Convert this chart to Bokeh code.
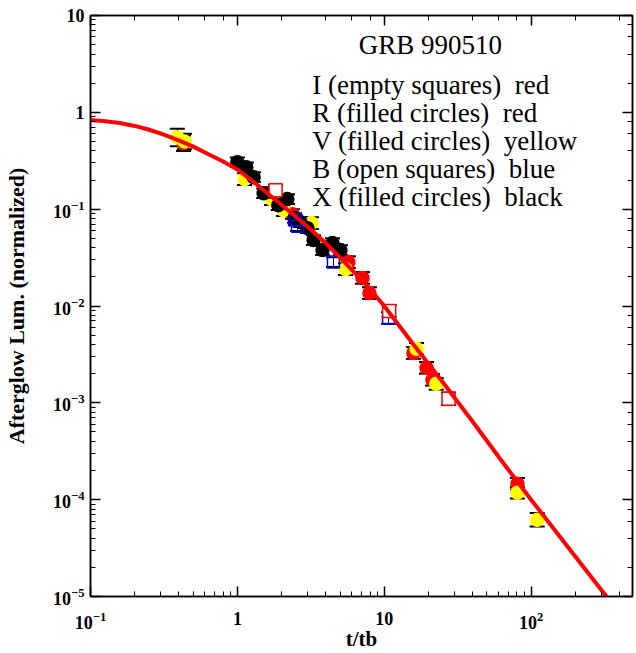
from bokeh.plotting import figure
from bokeh.models import LogAxis, Whisker, ColumnDataSource, Label, TeeHead
from bokeh.embed import file_html
from bokeh.resources import INLINE

# ---- data ----
R_t = [0.43, 1.79, 2.37, 5.70, 7.11, 7.93, 15.8, 19.4, 21.3, 80.7]
R_L = [0.48, 0.136, 0.0887, 0.0284, 0.0195, 0.0136, 0.00327, 0.00230, 0.00173, 1.46e-4]
R_err = [0.08, 0.05, 0.05, 0.06, 0.06, 0.06, 0.06, 0.06, 0.06, 0.06]

V_t = [0.39, 0.436, 1.12, 1.71, 2.06, 3.19, 5.45, 16.6, 22.6, 80.7, 110]
V_L = [0.55, 0.50, 0.204, 0.127, 0.0977, 0.0718, 0.0240, 0.00361, 0.00157, 1.18e-4, 6.2e-5]
V_err = [0.09, 0.08, 0.06, 0.06, 0.06, 0.06, 0.06, 0.06, 0.06, 0.06, 0.07]

X_t = [1.00, 1.15, 1.29, 1.51, 1.73, 1.90, 2.19, 2.45, 2.69, 3.00, 3.30, 3.80, 4.44, 5.03]
X_L = [0.305, 0.271, 0.214, 0.146, 0.150, 0.110, 0.127, 0.081, 0.0734, 0.0637, 0.0479, 0.0378, 0.0446, 0.0378]
X_err = [0.05] * 14

B_t = [2.48, 2.57, 4.51, 10.7]
B_L = [0.0771, 0.0668, 0.0284, 0.00752]
B_err = [0.05, 0.05, 0.05, 0.06]

I_t = [1.82, 10.8, 27.4]
I_L = [0.157, 0.00887, 0.00110]
I_err = [0.05, 0.06, 0.065]

curve_t = [0.1, 0.126, 0.158, 0.2, 0.251, 0.316, 0.398, 0.501, 0.631, 0.794, 1.0, 1.259,
           1.585, 1.995, 2.512, 3.162, 3.981, 5.012, 6.31, 7.943, 10.0,
           15.85, 25.12, 39.81, 63.1, 100, 158.5, 251.2, 398.1]
curve_L = [0.832, 0.807, 0.776, 0.724, 0.661, 0.589, 0.513, 0.442, 0.372, 0.313, 0.257, 0.197,
           0.148, 0.111, 0.0832, 0.0617, 0.0447, 0.0316, 0.0219, 0.0151, 0.0100,
           0.00398, 0.00162, 6.46e-4, 2.51e-4, 1.0e-4, 4.07e-5, 1.66e-5, 6.76e-6]

title_text = "GRB 990510"
legend_lines = ["I (empty squares) \u00a0red", "R (filled circles) \u00a0red",
                "V (filled circles) \u00a0yellow", "B (open squares) \u00a0blue",
                "X (filled circles) \u00a0black"]

FONT = "Liberation Serif"

p = figure(width=634, height=653, x_axis_type="log", y_axis_type="log",
           x_range=(0.1, 490), y_range=(1e-5, 10),
           output_backend="svg", toolbar_location=None,
           min_border_left=90, min_border_right=2, min_border_top=15, min_border_bottom=56)
p.grid.visible = False
p.outline_line_color = "black"
p.outline_line_width = 1.5
p.background_fill_color = "white"


def style_axis(ax, labels=True):
    ax.axis_line_width = 1.5
    ax.major_tick_in = 10
    ax.major_tick_out = 0
    ax.minor_tick_in = 5
    ax.minor_tick_out = 0
    ax.major_tick_line_width = 1.5
    ax.minor_tick_line_width = 1
    if labels:
        ax.major_label_text_font = FONT
        ax.major_label_text_font_style = "bold"
        ax.major_label_text_font_size = "18px"
        ax.major_label_text_color = "black"
        ax.axis_label_text_font = FONT
        ax.axis_label_text_font_style = "bold"
        ax.axis_label_text_color = "black"
    else:
        ax.major_label_text_font_size = "1px"
        ax.major_label_text_color = None
        ax.major_label_standoff = 0


xa = p.xaxis[0]
ya = p.yaxis[0]
style_axis(xa)
style_axis(ya)
xa.axis_label = "t/tb"
xa.axis_label_text_font_size = "21px"
xa.major_label_standoff = 15
xa.axis_label_standoff = -5
xa.major_label_overrides = {1: "1", 10: "10"}
ya.axis_label = "Afterglow Lum. (normalized)"
ya.axis_label_text_font_size = "22px"
ya.major_label_standoff = 6
ya.axis_label_standoff = 21
ya.major_label_overrides = {1: "1", 10: "10"}

top = LogAxis()
style_axis(top, labels=False)
p.add_layout(top, "above")
right = LogAxis()
style_axis(right, labels=False)
p.add_layout(right, "right")


def add_series(t, L, err, marker, fill, line, size=13):
    lo = [v / 10 ** e for v, e in zip(L, err)]
    up = [v * 10 ** e for v, e in zip(L, err)]
    src = ColumnDataSource(dict(t=t, L=L, lo=lo, up=up))
    w = Whisker(source=src, base="t", upper="up", lower="lo",
                line_color="black", line_width=1,
                upper_head=TeeHead(size=15, line_color="black", line_width=2),
                lower_head=TeeHead(size=15, line_color="black", line_width=2))
    p.add_layout(w)
    p.scatter("t", "L", source=src, marker=marker, size=size,
              fill_color=fill, line_color=line, line_width=1.5)


add_series(R_t, R_L, R_err, "circle", "#ff0000", "#ff0000")
add_series(V_t, V_L, V_err, "circle", "#ffff00", "#ffff00")
add_series(X_t, X_L, X_err, "circle", "black", "black")
add_series(B_t, B_L, B_err, "square", None, "#0000ff", size=12)
add_series(I_t, I_L, I_err, "square", "white", "#ff0000", size=13)

p.line(curve_t, curve_L, line_color="#ff0000", line_width=4)

p.add_layout(Label(x=20.6, y=4.91, text=title_text, text_font=FONT, text_font_size="27px",
                   text_align="center", text_baseline="middle", text_color="black"))
ys = [1.90, 0.977, 0.502, 0.258, 0.133]
for txt, yy in zip(legend_lines, ys):
    p.add_layout(Label(x=3.24, y=yy, text=txt, text_font=FONT, text_font_size="27px",
                       text_align="left", text_baseline="middle", text_color="black"))

open("out.html", "w").write(file_html(p, INLINE))
